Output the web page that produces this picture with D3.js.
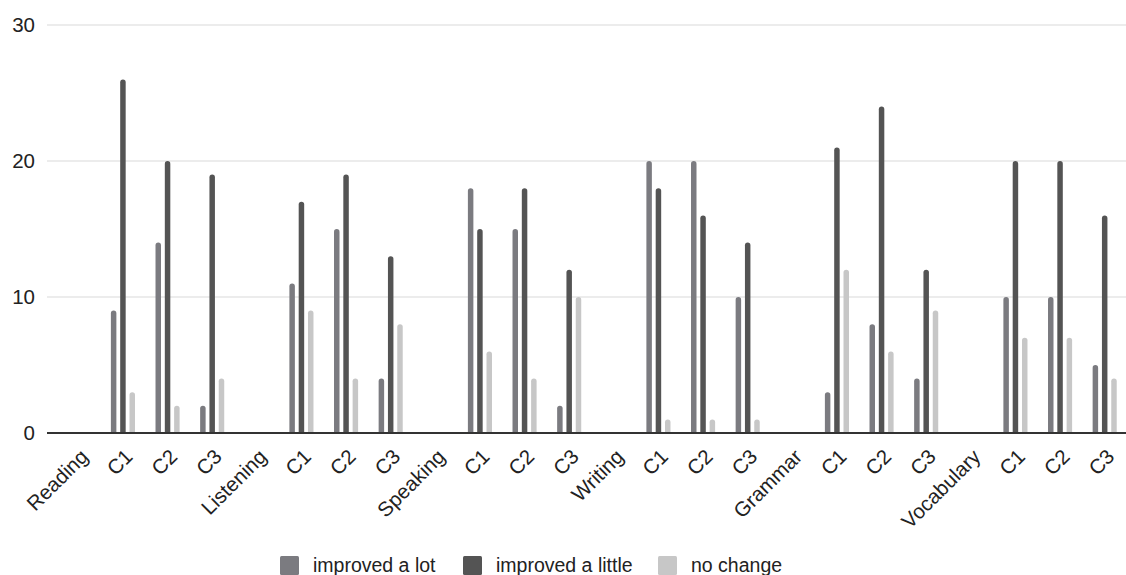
<!DOCTYPE html>
<html>
<head>
<meta charset="utf-8">
<script src="https://cdn.jsdelivr.net/npm/d3@7"></script>
<style>
  html, body { margin: 0; padding: 0; background: #fff; }
  svg { display: block; font-family: "Liberation Sans", Arial, sans-serif; }
</style>
</head>
<body>
<svg id="chart" width="1126" height="575"></svg>
<script>
const categories = ["Reading","C1","C2","C3","Listening","C1","C2","C3","Speaking","C1","C2","C3","Writing","C1","C2","C3","Grammar","C1","C2","C3","Vocabulary","C1","C2","C3"];
const seriesNames = ["improved a lot","improved a little","no change"];
const improvedALot    = [null, 9,14,2, null,11,15,4, null,18,15,2, null,20,20,10, null,3,8,4, null,10,10,5];
const improvedALittle = [null,26,20,19, null,17,19,13, null,15,18,12, null,18,16,14, null,21,24,12, null,20,20,16];
const noChange        = [null, 3,2,4, null,9,4,8, null,6,4,10, null,1,1,1, null,12,6,9, null,7,7,4];
const yTicks = [0,10,20,30];
const colors = ["#7b7b80","#545454","#c7c7c7"];

const seriesValues = [improvedALot, improvedALittle, noChange];
const svg = d3.select("#chart");

const plotLeft = 47, plotRight = 1126;
const y = d3.scaleLinear().domain([0,30]).range([433,25]);
const x0 = d3.scaleBand().domain(d3.range(categories.length)).range([56,1127]).padding(0);
const groupW = 24.1;
const x1 = d3.scaleBand().domain(d3.range(3)).range([0,groupW]).paddingInner(0.41).paddingOuter(0);
const groupOff = (x0.bandwidth() - groupW)/2;

// gridlines
svg.append("g").selectAll("line").data(yTicks.filter(t => t !== 0)).join("line")
  .attr("x1", plotLeft).attr("x2", plotRight)
  .attr("y1", d => y(d)).attr("y2", d => y(d))
  .attr("stroke", "#d9d9d9").attr("stroke-width", 1.2);

// y axis labels
const yAxis = d3.axisLeft(y).tickValues(yTicks).tickSize(0).tickPadding(0).tickFormat(d3.format("d"));
const yg = svg.append("g").attr("transform", `translate(35,0)`).call(yAxis);
yg.select(".domain").remove();
yg.selectAll("text").attr("font-size", 20.5).attr("fill", "#222").attr("font-family", '"Liberation Sans", Arial, sans-serif');

// bars
const bw = x1.bandwidth();
const r = bw/2;
function barPath(xl, yt, w, yb) {
  const h = yb - yt;
  const rr = Math.min(r, h);
  return `M${xl},${yb}V${yt+rr}Q${xl},${yt} ${xl+rr},${yt}H${xl+w-rr}Q${xl+w},${yt} ${xl+w},${yt+rr}V${yb}Z`;
}
const barData = [];
seriesValues.forEach((vals, s) => {
  vals.forEach((v, i) => { if (v != null) barData.push({i, s, v}); });
});
svg.append("g").selectAll("path").data(barData).join("path")
  .attr("d", d => barPath(x0(d.i) + groupOff + x1(d.s), y(d.v), bw, y(0)))
  .attr("fill", d => colors[d.s]);

// x axis line
svg.append("line").attr("x1", plotLeft).attr("x2", plotRight)
  .attr("y1", y(0)).attr("y2", y(0)).attr("stroke", "#333").attr("stroke-width", 2);

// x labels
const xAxis = d3.axisBottom(x0).tickSize(0).tickFormat(i => categories[i]);
const xg = svg.append("g").attr("transform", `translate(0,${y(0)})`).call(xAxis);
xg.select(".domain").remove();
xg.selectAll(".tick text")
  .attr("font-size", 20.5).attr("fill", "#222")
  .attr("font-family", '"Liberation Sans", Arial, sans-serif')
  .attr("text-anchor", "end")
  .attr("dy", null)
  .attr("y", 0)
  .attr("transform", "translate(11,25) rotate(-45)");

// legend
const legend = svg.append("g");
const legItems = [{x:280, label: seriesNames[0]}, {x:463, label: seriesNames[1]}, {x:658, label: seriesNames[2]}];
legItems.forEach((it, k) => {
  legend.append("rect").attr("x", it.x).attr("y", 556).attr("width", 19).attr("height", 19)
    .attr("rx", 1.5).attr("fill", colors[k]);
  legend.append("text").attr("x", it.x + 33).attr("y", 572).attr("font-size", 19.5)
    .attr("fill", "#222").text(it.label);
});
</script>
</body>
</html>
